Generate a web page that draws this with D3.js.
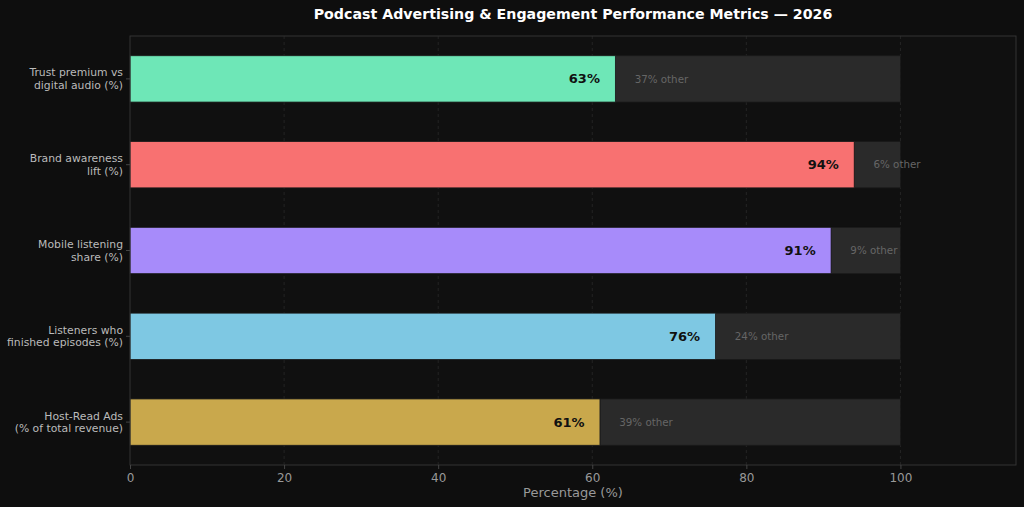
<!DOCTYPE html>
<html>
<head>
<meta charset="utf-8">
<script src="https://cdn.jsdelivr.net/npm/d3@7"></script>
<style>
  html, body { margin: 0; padding: 0; background: #0e0e0e; }
  svg { display: block; font-family: "DejaVu Sans", sans-serif; }
</style>
</head>
<body>
<svg id="chart" width="1024" height="507"></svg>
<script>
/* Podcast metrics — horizontal bars with "other" remainder */

const categories = [
  'Trust premium vs\ndigital audio (%)',
  'Brand awareness\nlift (%)',
  'Mobile listening\nshare (%)',
  'Listeners who\nfinished episodes (%)',
  'Host-Read Ads\n(% of total revenue)',
];
const values = [63, 94, 91, 76, 61];
const barColors = ['#6ee7b7', '#f87171', '#a78bfa', '#7ec8e3', '#c9a84c'];
const xTicks = [0, 20, 40, 60, 80, 100];

const W = 1024, H = 507;
const m = { left: 130, right: 8, top: 36, bottom: 42 };

const svg = d3.select('#chart');
svg.append('rect').attr('width', W).attr('height', H).attr('fill', '#0e0e0e');

const x = d3.scaleLinear().domain([0, 115]).range([m.left, W - m.right]);
const y = d3.scaleLinear().domain([-0.5, categories.length - 0.5]).range([m.top, H - m.bottom]);
const barH = y(0.54) - y(0);

// plot background
svg.append('rect')
  .attr('x', x(0)).attr('y', m.top)
  .attr('width', x(115) - x(0)).attr('height', H - m.bottom - m.top)
  .attr('fill', '#101010');

// grid
svg.append('g').selectAll('line')
  .data(xTicks.slice(1))
  .join('line')
  .attr('x1', d => x(d)).attr('x2', d => x(d))
  .attr('y1', m.top).attr('y2', H - m.bottom)
  .attr('stroke', '#2a2a2a').attr('stroke-width', 0.8)
  .attr('stroke-dasharray', '3,3');

// remainder bars
svg.append('g').selectAll('rect')
  .data(values)
  .join('rect')
  .attr('x', d => x(d)).attr('y', (d, i) => y(i) - barH / 2)
  .attr('width', d => x(100) - x(d)).attr('height', barH)
  .attr('fill', '#2a2a2a').attr('stroke', '#1a1a1a').attr('stroke-width', 0.8);

// value bars
svg.append('g').selectAll('rect')
  .data(values)
  .join('rect')
  .attr('x', x(0)).attr('y', (d, i) => y(i) - barH / 2)
  .attr('width', d => x(d) - x(0)).attr('height', barH)
  .attr('fill', (d, i) => barColors[i]).attr('stroke', '#1a1a1a').attr('stroke-width', 0.8);

// value labels
svg.append('g').selectAll('text')
  .data(values)
  .join('text')
  .attr('x', d => x(d - 2)).attr('y', (d, i) => y(i))
  .attr('dy', '0.35em').attr('text-anchor', 'end')
  .attr('font-size', 13).attr('font-weight', 'bold').attr('fill', '#111')
  .text(d => d + '%');

// remainder labels
svg.append('g').selectAll('text')
  .data(values)
  .join('text')
  .attr('x', d => x(d + 2.5)).attr('y', (d, i) => y(i))
  .attr('dy', '0.35em')
  .attr('font-size', 10.3).attr('fill', '#666')
  .text(d => (100 - d) + '% other');

// frame
svg.append('rect')
  .attr('x', x(0)).attr('y', m.top)
  .attr('width', x(115) - x(0)).attr('height', H - m.bottom - m.top)
  .attr('fill', 'none').attr('stroke', '#333').attr('stroke-width', 1);

// x axis
const xAxis = svg.append('g')
  .attr('transform', `translate(0,${H - m.bottom})`)
  .call(d3.axisBottom(x).tickValues(xTicks).tickSize(4).tickPadding(4));
xAxis.select('.domain').remove();
xAxis.selectAll('line').attr('stroke', '#444');
xAxis.selectAll('text').attr('fill', '#999').attr('font-size', 12)
  .attr('font-family', '"DejaVu Sans", sans-serif');

// y ticks + labels
const yg = svg.append('g');
categories.forEach((c, i) => {
  yg.append('line')
    .attr('x1', x(0) - 4).attr('x2', x(0))
    .attr('y1', y(i)).attr('y2', y(i))
    .attr('stroke', '#444');
  const lines = c.split('\n');
  const t = yg.append('text')
    .attr('x', x(0) - 7).attr('y', y(i))
    .attr('text-anchor', 'end').attr('font-size', 10.8).attr('fill', '#bbb');
  lines.forEach((l, k) => {
    t.append('tspan')
      .attr('x', x(0) - 7)
      .attr('y', y(i) + (k - (lines.length - 1) / 2) * 12.5)
      .attr('dy', '0.35em')
      .text(l);
  });
});

// axis label
svg.append('text')
  .attr('x', (x(0) + x(115)) / 2).attr('y', 497)
  .attr('text-anchor', 'middle').attr('font-size', 13).attr('fill', '#999')
  .text('Percentage (%)');

// title
svg.append('text')
  .attr('x', (x(0) + x(115)) / 2).attr('y', 19)
  .attr('text-anchor', 'middle').attr('font-size', 14.2).attr('font-weight', 'bold').attr('fill', '#fff')
  .text('Podcast Advertising & Engagement Performance Metrics — 2026');
</script>
</body>
</html>
